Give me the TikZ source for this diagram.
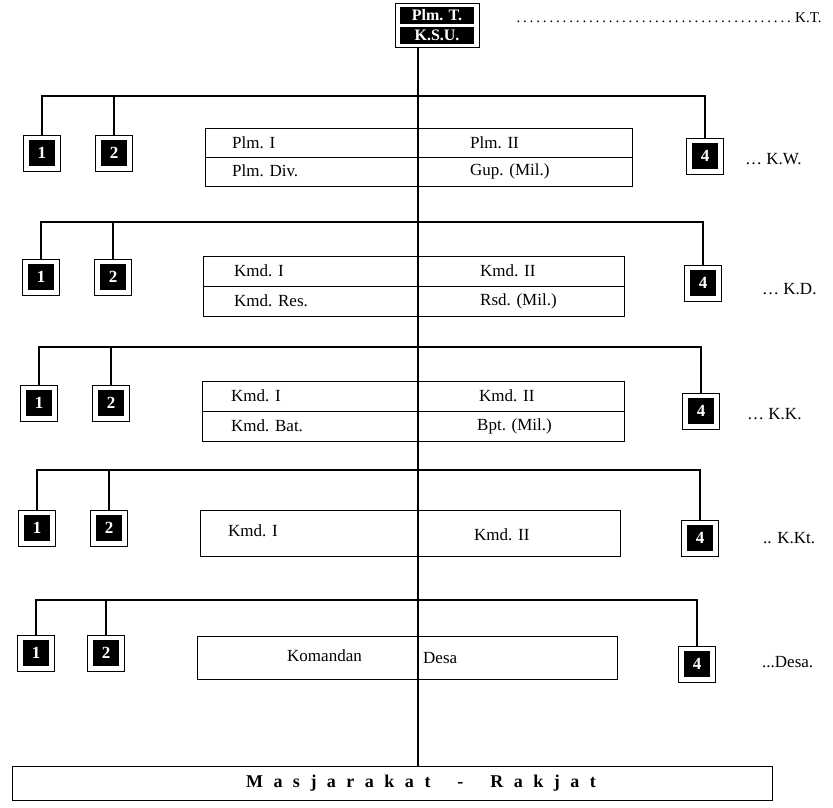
\documentclass[tikz,border=0pt]{standalone}
\usepackage{fontspec}
\setmainfont{Liberation Serif}
\newcommand{\lsp}{\hspace{10.5pt}}
\begin{document}
\begin{tikzpicture}[x=1pt,y=-1pt,
  conn/.style={line width=1.8pt},
  tbl/.style={draw, line width=1pt, inner sep=0pt},
  txt/.style={anchor=west, inner sep=0pt, font=\fontsize{17}{17}\selectfont},
  lbl/.style={anchor=west, inner sep=0pt, font=\fontsize{17}{17}\selectfont},
  num/.style={draw, line width=0.8pt, minimum width=37pt, minimum height=36pt, inner sep=0pt,
    path picture={\fill[black] ([xshift=-13pt,yshift=-13pt]path picture bounding box.center) rectangle ([xshift=13pt,yshift=13pt]path picture bounding box.center);},
    text=white, font=\fontsize{17}{17}\selectfont\bfseries},
  blackbar/.style={fill=black, text=white, minimum width=74pt, minimum height=17pt, inner sep=0pt, font=\fontsize{16}{16}\selectfont\bfseries}
]
\useasboundingbox (0,0) rectangle (833,807);
\fill[white] (0,0) rectangle (833,807);

% top box
\node[draw, line width=0.8pt, minimum width=84pt, minimum height=44pt, inner sep=0pt] (top) at (437,25) {};
\node[blackbar] (plm) at (437,15) {Plm. T.};
\node[blackbar] (ksu) at (437,35) {K.S.U.};
\node[lbl, font=\fontsize{15}{15}\selectfont] (kt) at (512,18) {\makebox[283pt]{\dotfill}K.T.};

% bottom box
\node[draw, line width=1pt, minimum width=760pt, minimum height=34pt, inner sep=0pt] (rak) at (392,783) {};
\node[inner sep=0pt, font=\fontsize{18}{18}\selectfont\bfseries] (rakt) at (421,783)
  {M\lsp a\lsp s\lsp j\lsp a\lsp r\lsp a\lsp k\lsp a\lsp t\hspace{27pt}-\hspace{27pt}R\lsp a\lsp k\lsp j\lsp a\lsp t};

% main line
\coordinate (mx) at (418,0);
\draw[conn] (top.south -| mx) -- (rak.north -| mx);

% ---------- Level 1 ----------
\coordinate (h1) at (0,96);
\node[num] (a1) at (42,153) {1};
\node[num] (a2) at (114,153) {2};
\node[num] (a4) at (705,156) {4};
\draw[conn] (a1.north) -- (a1.north |- h1) -- (a4.north |- h1) -- (a4.north);
\draw[conn] (a2.north) -- (a2.north |- h1);
\node[tbl, minimum width=427pt, minimum height=58pt] (t1) at (418.5,157) {};
\draw[line width=1pt] (t1.west) -- (t1.east);
\node[txt] (t1a) at (232,143) {Plm. I};
\node[txt] (t1b) at (470,143) {Plm. II};
\node[txt] (t1c) at (232,171) {Plm. Div.};
\node[txt] (t1d) at (470,171) {Gup. (Mil.)};
\node[lbl] (l1) at (745,159) {\dots\ K.W.};

% ---------- Level 2 ----------
\coordinate (h2) at (0,222);
\node[num] (b1) at (41,277) {1};
\node[num] (b2) at (113,277) {2};
\node[num] (b4) at (703,283) {4};
\draw[conn] (b1.north) -- (b1.north |- h2) -- (b4.north |- h2) -- (b4.north);
\draw[conn] (b2.north) -- (b2.north |- h2);
\node[tbl, minimum width=421pt, minimum height=60pt] (t2) at (413.5,286) {};
\draw[line width=1pt] (t2.west) -- (t2.east);
\node[txt] (t2a) at (234,271) {Kmd. I};
\node[txt] (t2b) at (480,271) {Kmd. II};
\node[txt] (t2c) at (234,301) {Kmd. Res.};
\node[txt] (t2d) at (480,301) {Rsd. (Mil.)};
\node[lbl] (l2) at (762,289) {\dots\ K.D.};

% ---------- Level 3 ----------
\coordinate (h3) at (0,347);
\node[num] (c1) at (39,403) {1};
\node[num] (c2) at (111,403) {2};
\node[num] (c4) at (701,411) {4};
\draw[conn] (c1.north) -- (c1.north |- h3) -- (c4.north |- h3) -- (c4.north);
\draw[conn] (c2.north) -- (c2.north |- h3);
\node[tbl, minimum width=422pt, minimum height=60pt] (t3) at (413,411) {};
\draw[line width=1pt] (t3.west) -- (t3.east);
\node[txt] (t3a) at (231,396) {Kmd. I};
\node[txt] (t3b) at (479,396) {Kmd. II};
\node[txt] (t3c) at (231,426) {Kmd. Bat.};
\node[txt] (t3d) at (477,426) {Bpt. (Mil.)};
\node[lbl] (l3) at (747,414) {\dots\ K.K.};

% ---------- Level 4 ----------
\coordinate (h4) at (0,470);
\node[num] (d1) at (37,528) {1};
\node[num] (d2) at (109,528) {2};
\node[num] (d4) at (700,538) {4};
\draw[conn] (d1.north) -- (d1.north |- h4) -- (d4.north |- h4) -- (d4.north);
\draw[conn] (d2.north) -- (d2.north |- h4);
\node[tbl, minimum width=420pt, minimum height=46pt] (t4) at (410,533) {};
\node[txt] (t4a) at (228,531) {Kmd. I};
\node[txt] (t4b) at (474,535) {Kmd. II};
\node[lbl] (l4) at (763,538) {.. K.Kt.};

% ---------- Level 5 ----------
\coordinate (h5) at (0,600);
\node[num] (e1) at (36,653) {1};
\node[num] (e2) at (106,653) {2};
\node[num] (e4) at (697,664) {4};
\draw[conn] (e1.north) -- (e1.north |- h5) -- (e4.north |- h5) -- (e4.north);
\draw[conn] (e2.north) -- (e2.north |- h5);
\node[tbl, minimum width=420pt, minimum height=43pt] (t5) at (407,658) {};
\node[txt] (t5a) at (287,656) {Komandan};
\node[txt] (t5b) at (423,658) {Desa};
\node[lbl] (l5) at (762,662) {...Desa.};
\end{tikzpicture}
\end{document}
